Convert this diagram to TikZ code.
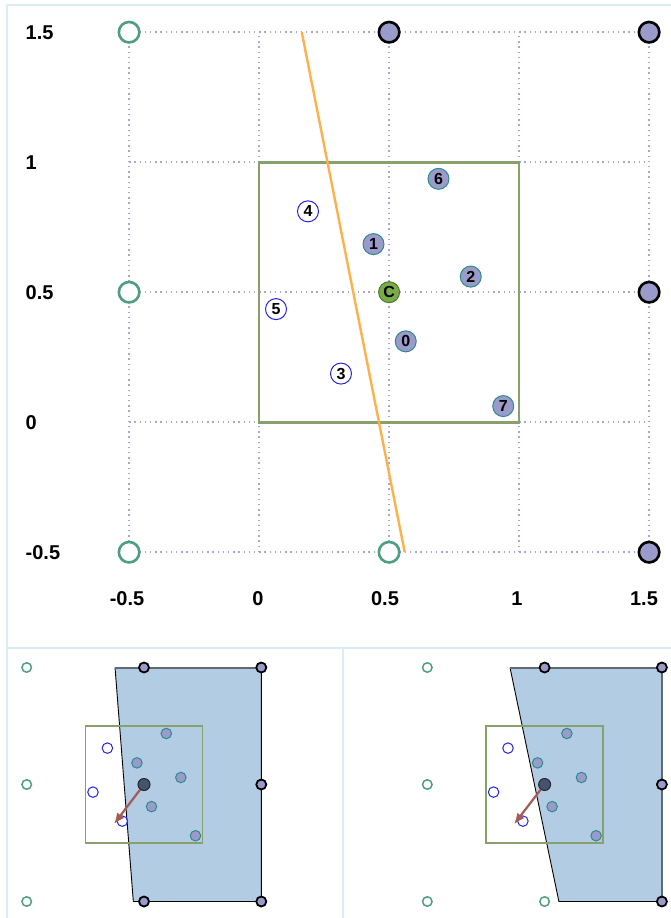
\documentclass[tikz,border=0pt]{standalone}
\usepackage{fontspec}
\setmainfont{Liberation Sans}
\usetikzlibrary{arrows.meta}
\definecolor{gridc}{HTML}{ABA5D2}
\definecolor{framec}{HTML}{D9EDF4}
\definecolor{purplec}{HTML}{9B9BCB}
\definecolor{tealc}{HTML}{2E8B8B}
\definecolor{greenc}{HTML}{4F9E80}
\definecolor{cfill}{HTML}{79AB49}
\definecolor{cdraw}{HTML}{4D7A2A}
\definecolor{rectc}{HTML}{87A06C}
\definecolor{orangec}{HTML}{FFB04A}
\definecolor{polyc}{HTML}{B2CCE4}
\definecolor{polyedge}{HTML}{5F6873}
\definecolor{arrowc}{HTML}{A65A55}
\definecolor{centc}{HTML}{44546E}
\definecolor{bluec}{HTML}{2424DD}
\tikzset{
  gridl/.style={draw=gridc, line width=1.5pt, dash pattern=on 1.4pt off 3.8pt},
  framel/.style={draw=framec, line width=2pt},
  ticklab/.style={font=\fontsize{20}{20}\selectfont\bfseries, inner sep=0pt},
  bigout/.style={circle, draw=greenc, fill=white, line width=2.6pt, minimum size=20.5pt, inner sep=0pt},
  bigin/.style={circle, draw=black, fill=purplec, line width=2.6pt, minimum size=20.5pt, inner sep=0pt},
  labin/.style={circle, draw=tealc, fill=purplec, line width=1pt, minimum size=21pt, inner sep=0pt, font=\fontsize{16}{16}\selectfont\bfseries},
  labout/.style={circle, draw=bluec, fill=white, line width=1pt, minimum size=21pt, inner sep=0pt, font=\fontsize{16}{16}\selectfont\bfseries},
  labc/.style={circle, draw=cdraw, fill=cfill, line width=1pt, minimum size=21pt, inner sep=0pt, font=\fontsize{16}{16}\selectfont\bfseries},
  smout/.style={circle, draw=greenc, fill=white, line width=1.5pt, minimum size=9.5pt, inner sep=0pt},
  smin/.style={circle, draw=black, fill=purplec, line width=1.8pt, minimum size=10pt, inner sep=0pt},
  smpin/.style={circle, draw=tealc, fill=purplec, line width=1pt, minimum size=10.5pt, inner sep=0pt},
  smpout/.style={circle, draw=bluec, fill=white, line width=1pt, minimum size=10.5pt, inner sep=0pt},
  smcent/.style={circle, draw=black!85, fill=centc, line width=1pt, minimum size=12pt, inner sep=0pt},
  vecl/.style={draw=arrowc, line width=2.2pt, -{Latex[length=11pt,width=9pt]}},
}
\begin{document}
\begin{tikzpicture}[x=1pt,y=-1pt]
\useasboundingbox (0,0) rectangle (671,918);
% frame
\draw[framel] (6.7,918) -- (6.7,5.3) -- (671,5.3);
\draw[framel] (6.7,648.3) -- (671,648.3);
\draw[framel] (342.7,648.3) -- (342.7,918);
% axis tick labels
\node[ticklab, anchor=west] (yl1) at (25.5,32.7) {1.5};
\node[ticklab, anchor=west] (yl2) at (25.5,162.5) {1};
\node[ticklab, anchor=west] (yl3) at (25.5,292.2) {0.5};
\node[ticklab, anchor=west] (yl4) at (25.5,422.2) {0};
\node[ticklab, anchor=west] (yl5) at (25.5,552.2) {-0.5};
\node[ticklab] (xl1) at (127,599) {-0.5};
\node[ticklab] (xl2) at (258,599) {0};
\node[ticklab] (xl3) at (385,599) {0.5};
\node[ticklab] (xl4) at (517,599) {1};
\node[ticklab] (xl5) at (644,599) {1.5};
% main plot
\begin{scope}[shift={(259.1,422.2)}, x=260pt, y=260pt]
  \foreach \v in {-0.5,0,0.5,1,1.5} {
    \draw[gridl] (-0.5,\v) -- (1.5,\v);
    \draw[gridl] (\v,-0.5) -- (\v,1.5);
  }
  \draw[draw=rectc, line width=2.6pt] (0,0) rectangle (1,1);
  \coordinate (la) at (0.164,1.5);
  \coordinate (lb) at (0.56,-0.5);
  \draw[orangec, line width=2.4pt] (la) -- (lb);
  \node[bigout] (g1) at (-0.5,1.5) {};
  \node[bigout] (g2) at (-0.5,0.5) {};
  \node[bigout] (g3) at (-0.5,-0.5) {};
  \node[bigout] (g4) at (0.5,-0.5) {};
  \node[bigin] (q1) at (0.5,1.5) {};
  \node[bigin] (q2) at (1.5,1.5) {};
  \node[bigin] (q3) at (1.5,0.5) {};
  \node[bigin] (q4) at (1.5,-0.5) {};
  \node[labin] (p0) at (0.564,0.311) {0};
  \node[labin] (p1) at (0.440,0.685) {1};
  \node[labin] (p2) at (0.814,0.560) {2};
  \node[labout] (p3) at (0.315,0.187) {3};
  \node[labout] (p4) at (0.188,0.811) {4};
  \node[labout] (p5) at (0.065,0.435) {5};
  \node[labin] (p6) at (0.690,0.936) {6};
  \node[labin] (p7) at (0.939,0.062) {7};
  \node[labc] (pc) at (0.5,0.5) {C};
\end{scope}
% lower left panel
\begin{scope}[shift={(85.35,843)}, x=117.3pt, y=117pt]
  \coordinate (a1) at (0.253,1.5);
  \coordinate (a2) at (1.5,1.5);
  \coordinate (a3) at (1.5,-0.5);
  \coordinate (a4) at (0.409,-0.5);
  \fill[polyc] (a1) -- (a2) -- (a3) -- (a4) -- cycle;
  \draw[black, line width=0.9pt] (a2) -- (a3) -- (a4) -- (a1);
  \draw[polyedge, line width=2pt] (a1) -- (a2);
  \draw[draw=rectc, line width=1.6pt] (0,0) rectangle (1,1);
  \node[smout] (lg1) at (-0.5,1.5) {};
  \node[smout] (lg2) at (-0.5,0.5) {};
  \node[smout] (lg3) at (-0.5,-0.5) {};
  \node[smin] (lq1) at (0.5,1.5) {};
  \node[smin] (lq2) at (1.5,1.5) {};
  \node[smin] (lq3) at (1.5,0.5) {};
  \node[smin] (lq4) at (1.5,-0.5) {};
  \node[smin] (lq5) at (0.5,-0.5) {};
  \node[smpin] (l0) at (0.564,0.311) {};
  \node[smpin] (l1) at (0.440,0.685) {};
  \node[smpin] (l2) at (0.814,0.560) {};
  \node[smpout] (l3) at (0.315,0.187) {};
  \node[smpout] (l4) at (0.188,0.811) {};
  \node[smpout] (l5) at (0.065,0.435) {};
  \node[smpin] (l6) at (0.690,0.936) {};
  \node[smpin] (l7) at (0.939,0.062) {};
  \coordinate (ltip) at (0.244,0.162);
  \node[smcent] (lc) at (0.5,0.5) {};
  \draw[vecl] (lc) -- (ltip);
\end{scope}
% lower right panel
\begin{scope}[shift={(485.95,843)}, x=117.3pt, y=117pt]
  \coordinate (b1) at (0.205,1.5);
  \coordinate (b2) at (1.5,1.5);
  \coordinate (b3) at (1.5,-0.5);
  \coordinate (b4) at (0.622,-0.5);
  \fill[polyc] (b1) -- (b2) -- (b3) -- (b4) -- cycle;
  \draw[black, line width=0.9pt] (b3) -- (b4) -- (b1);
  \draw[polyedge, line width=2pt] (b1) -- (b2) -- (b3);
  \draw[draw=rectc, line width=1.6pt] (0,0) rectangle (1,1);
  \node[smout] (rg1) at (-0.5,1.5) {};
  \node[smout] (rg2) at (-0.5,0.5) {};
  \node[smout] (rg3) at (-0.5,-0.5) {};
  \node[smout] (rg4) at (0.5,-0.5) {};
  \node[smin] (rq1) at (0.5,1.5) {};
  \node[smin] (rq2) at (1.5,1.5) {};
  \node[smin] (rq3) at (1.5,0.5) {};
  \node[smin] (rq4) at (1.5,-0.5) {};
  \node[smpin] (r0) at (0.564,0.311) {};
  \node[smpin] (r1) at (0.440,0.685) {};
  \node[smpin] (r2) at (0.814,0.560) {};
  \node[smpout] (r3) at (0.315,0.187) {};
  \node[smpout] (r4) at (0.188,0.811) {};
  \node[smpout] (r5) at (0.065,0.435) {};
  \node[smpin] (r6) at (0.690,0.936) {};
  \node[smpin] (r7) at (0.939,0.062) {};
  \coordinate (rtip) at (0.239,0.160);
  \node[smcent] (rc) at (0.5,0.5) {};
  \draw[vecl] (rc) -- (rtip);
\end{scope}
\end{tikzpicture}
\end{document}
